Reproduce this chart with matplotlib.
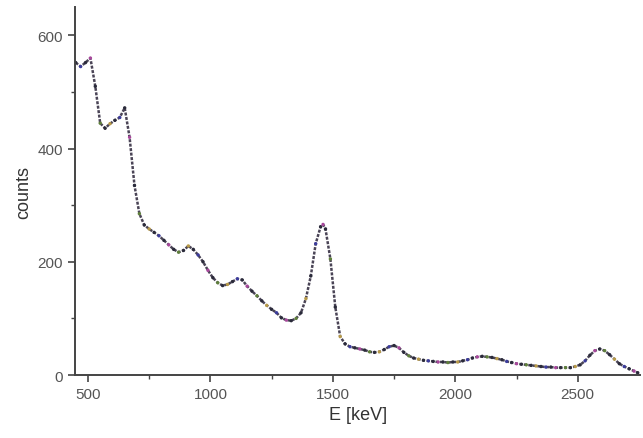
import numpy as np
from matplotlib import pyplot as plt

plt.rcParams['font.family'] = ['Liberation Sans', 'DejaVu Sans']

# spectrum (energy in keV, counts)
energy = [450, 470, 490, 510, 530, 550, 570, 590, 610, 630, 650, 670, 690, 710,
          730, 750, 770, 790, 810, 830, 850, 870, 890, 910, 930, 950, 970, 990,
          1010, 1030, 1050, 1070, 1090, 1110, 1130, 1150, 1170, 1190, 1210, 1230,
          1250, 1270, 1290, 1310, 1330, 1350, 1370, 1390, 1410, 1430, 1450, 1460,
          1470, 1490, 1510, 1530, 1550, 1570, 1590, 1610, 1630, 1650, 1670, 1690,
          1710, 1730, 1750, 1770, 1790, 1810, 1830, 1850, 1870, 1890, 1910, 1930,
          1950, 1970, 1990, 2010, 2030, 2050, 2070, 2090, 2110, 2130, 2150, 2170,
          2190, 2210, 2230, 2250, 2270, 2290, 2310, 2330, 2350, 2370, 2390, 2410,
          2430, 2450, 2470, 2490, 2510, 2530, 2550, 2570, 2590, 2610, 2630, 2650,
          2670, 2690, 2710, 2730, 2745]
counts = [552, 545, 552, 560, 510, 445, 436, 444, 450, 455, 472, 420, 335, 285,
          265, 258, 252, 246, 238, 230, 222, 217, 220, 228, 222, 212, 200, 185,
          172, 163, 158, 160, 165, 170, 168, 157, 148, 140, 131, 123,
          116, 110, 101, 97, 96, 100, 110, 135, 175, 232, 262, 266,
          258, 205, 120, 68, 55, 50, 48, 46, 44, 41, 40, 41,
          45, 50, 52, 48, 40, 34, 30, 28, 26, 25, 24, 23,
          23, 22, 23, 23, 25, 27, 30, 32, 33, 32, 31, 29,
          27, 24, 22, 20, 19, 18, 17, 16, 15, 14, 14, 13,
          13, 13, 13, 15, 18, 25, 35, 43, 46, 43, 36, 28,
          20, 15, 11, 7, 4]

dot_colors = ['#2a2a3a', '#3c3c9c', '#2a2a3a', '#a8489c', '#2a2a3a', '#5f7f3c', '#2a2a3a', '#b89a48']

fig = plt.figure(figsize=(6.43, 4.39), dpi=100)
ax = fig.add_axes([0.1166, 0.1435, 0.879, 0.838])

ax.plot(energy, counts, color='#4a4456', lw=1.8, ls=(0, (1.2, 0.6)), zorder=1)
cols = [dot_colors[i % len(dot_colors)] for i in range(len(energy))]
ax.scatter(energy, counts, s=6, c=cols, zorder=2, linewidths=0)

ax.set_xlim(447, 2755)
ax.set_ylim(0, 650)
ax.set_xticks([500, 1000, 1500, 2000, 2500])
ax.set_xticks([750, 1250, 1750, 2250], minor=True)
ax.set_yticks([0, 200, 400, 600])
ax.set_yticks([100, 300, 500], minor=True)

for s in ['top', 'right']:
    ax.spines[s].set_visible(False)
for s in ['left', 'bottom']:
    ax.spines[s].set_color('#444444')
    ax.spines[s].set_linewidth(1.4)

ax.tick_params(which='major', direction='out', length=5, width=1.2, color='#444444',
               labelsize=11, labelcolor='#555555')
ax.tick_params(which='minor', direction='out', length=3, width=1.0, color='#444444')

ax.set_xlabel('E [keV]', fontsize=13, color='#333333')
ax.set_ylabel('counts', fontsize=13, color='#333333')

plt.savefig('out.png', dpi=100)
